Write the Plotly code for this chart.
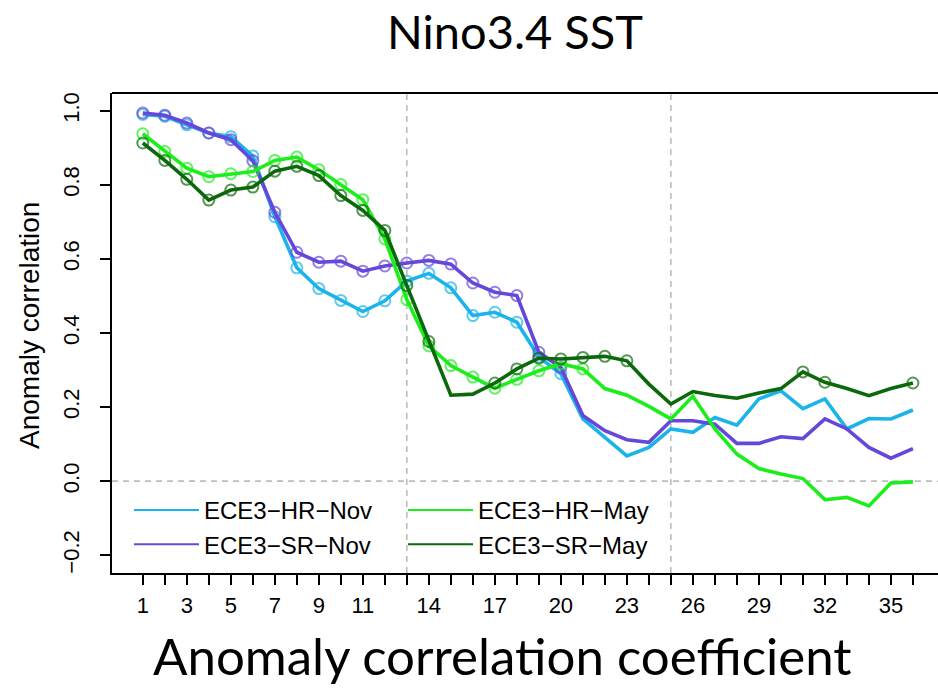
import plotly.graph_objects as go

# Lead month (1..36) and x-axis tick labels
months = list(range(1, 37))
tick_labels = ["1", "", "3", "", "5", "", "7", "", "9", "", "11", "", "", "14", "", "", "17", "", "",
               "20", "", "", "23", "", "", "26", "", "", "29", "", "", "32", "", "", "35", ""]

# Anomaly correlation per experiment
hr_nov = [0.990, 0.985, 0.962, 0.940, 0.930, 0.878, 0.714, 0.576, 0.520, 0.488, 0.458, 0.487,
          0.540, 0.561, 0.522, 0.447, 0.456, 0.429, 0.335, 0.290, 0.168, 0.118, 0.068, 0.091,
          0.141, 0.132, 0.172, 0.151, 0.222, 0.244, 0.196, 0.222, 0.141, 0.169, 0.168, 0.192]
sr_nov = [0.994, 0.988, 0.967, 0.940, 0.922, 0.865, 0.726, 0.618, 0.591, 0.594, 0.567, 0.581,
          0.589, 0.596, 0.586, 0.535, 0.510, 0.501, 0.348, 0.307, 0.177, 0.136, 0.112, 0.105,
          0.163, 0.163, 0.154, 0.102, 0.102, 0.120, 0.115, 0.168, 0.141, 0.091, 0.062, 0.088]
hr_may = [0.938, 0.890, 0.845, 0.822, 0.830, 0.836, 0.866, 0.875, 0.841, 0.801, 0.760, 0.654,
          0.490, 0.365, 0.312, 0.281, 0.251, 0.275, 0.298, 0.317, 0.303, 0.250, 0.232, 0.202,
          0.168, 0.229, 0.141, 0.073, 0.034, 0.019, 0.007, -0.050, -0.044, -0.067, -0.005, -0.002]
sr_may = [0.913, 0.866, 0.815, 0.759, 0.786, 0.794, 0.837, 0.850, 0.825, 0.771, 0.731, 0.677,
          0.528, 0.377, 0.232, 0.235, 0.265, 0.303, 0.332, 0.330, 0.334, 0.337, 0.325, 0.262,
          0.208, 0.242, 0.231, 0.224, 0.238, 0.250, 0.295, 0.267, 0.250, 0.231, 0.250, 0.265]

# Lead months flagged with an open circle
hr_nov_marked = list(range(1, 21))
sr_nov_marked = list(range(1, 21))
hr_may_marked = list(range(1, 22))
sr_may_marked = list(range(1, 15)) + list(range(17, 24)) + [31, 32, 36]

series = [
    ("ECE3−HR−Nov", hr_nov, hr_nov_marked, "#1AB4EA", "legend"),
    ("ECE3−SR−Nov", sr_nov, sr_nov_marked, "#6548DA", "legend"),
    ("ECE3−HR−May", hr_may, hr_may_marked, "#1CEE1C", "legend2"),
    ("ECE3−SR−May", sr_may, sr_may_marked, "#0B690B", "legend2"),
]

# Figure geometry (pixels)
W, H = 938, 689
ML, MR, MT, MB = 112, 0, 93, 116
PW, PH = W - ML - MR, H - MT - MB


def px_x(px):
    return (px - ML) / PW


def px_y(py):
    return (H - MB - py) / PH


fig = go.Figure()

for name, vals, marked, color, _ in series:
    sizes = [11 if m in marked else 0 for m in months]
    fig.add_trace(go.Scatter(
        x=months, y=vals, mode="lines+markers", name=name, showlegend=False,
        line=dict(color=color, width=3.6),
        marker=dict(symbol="circle-open", size=sizes, color=color, line=dict(width=2, color=color)),
    ))

# Legend entries (thin line keys): Nov runs in the first column, May runs in the second
for name, _, _, color, leg in series:
    fig.add_trace(go.Scatter(x=[None], y=[None], mode="lines", name=name, legend=leg,
                             line=dict(color=color, width=2)))

dash_style = dict(color="#BDBDBD", width=1.6, dash="6px,5px")
shapes = [
    dict(type="line", xref="paper", yref="y", x0=0, x1=1, y0=0, y1=0, line=dash_style, layer="below"),
    dict(type="line", xref="x", yref="paper", x0=13, x1=13, y0=0, y1=1, line=dash_style, layer="below"),
    dict(type="line", xref="x", yref="paper", x0=25, x1=25, y0=0, y1=1, line=dash_style, layer="below"),
    # top edge of the plot box
    dict(type="line", xref="paper", yref="paper", x0=0, x1=1, y0=1, y1=1,
         line=dict(color="black", width=2)),
]

annotations = [
    dict(text="Nino3.4 SST", xref="paper", yref="paper", x=px_x(515), y=px_y(31),
         xanchor="center", yanchor="middle", showarrow=False,
         font=dict(family="Lato", size=47, color="black")),
    dict(text="Anomaly correlation coefficient", xref="paper", yref="paper", x=px_x(502), y=px_y(655),
         xanchor="center", yanchor="middle", showarrow=False,
         font=dict(family="Lato", size=51, color="black")),
    dict(text="Anomaly correlation", xref="paper", yref="paper", x=px_x(29), y=px_y(326),
         xanchor="center", yanchor="middle", showarrow=False, textangle=-90,
         font=dict(family="Liberation Sans", size=28, color="black")),
]

legend_style = dict(xanchor="left", yanchor="top", orientation="v", bgcolor="rgba(0,0,0,0)",
                    font=dict(family="Liberation Sans", size=24, color="black"),
                    traceorder="normal", itemwidth=65, tracegroupgap=0)

fig.update_layout(
    width=W, height=H,
    margin=dict(l=ML, r=MR, t=MT, b=MB, pad=0),
    paper_bgcolor="white", plot_bgcolor="white",
    shapes=shapes, annotations=annotations,
    showlegend=True,
    legend=dict(x=px_x(129), y=px_y(488), **legend_style),
    legend2=dict(x=px_x(403), y=px_y(488), **legend_style),
    xaxis=dict(range=[-0.4, 37.14], tickmode="array", tickvals=months, ticktext=tick_labels,
               ticks="outside", ticklen=10, tickwidth=1.5, tickcolor="black",
               showline=True, linecolor="black", linewidth=2, mirror=False,
               showgrid=False, zeroline=False, ticklabelstandoff=2,
               tickfont=dict(family="Liberation Sans", size=22, color="black")),
    yaxis=dict(range=[-0.248, 1.048], tickmode="array",
               tickvals=[-0.2, 0.0, 0.2, 0.4, 0.6, 0.8, 1.0],
               ticktext=["−0.2", "0.0", "0.2", "0.4", "0.6", "0.8", "1.0"],
               tickangle=-90, ticks="outside", ticklen=10, tickwidth=1.5, tickcolor="black",
               showline=True, linecolor="black", linewidth=2, mirror=False,
               showgrid=False, zeroline=False, ticklabelstandoff=12,
               tickfont=dict(family="Liberation Sans", size=22, color="black")),
)

fig.write_html("out.html")
